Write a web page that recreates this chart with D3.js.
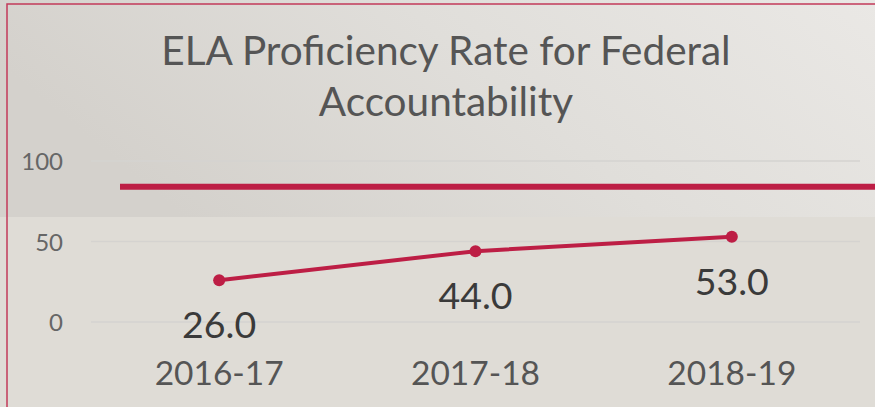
<!DOCTYPE html>
<html><head><meta charset="utf-8">
<script src="https://cdn.jsdelivr.net/npm/d3@7"></script>
<style>html,body{margin:0;padding:0;overflow:hidden;background:#dfdcd6}</style>
</head><body>
<script>
const categories = ["2016-17", "2017-18", "2018-19"];
const values = [26.0, 44.0, 53.0];
const targetValue = 84;
const yTicks = [0, 50, 100];
const titleLines = ["ELA Proficiency Rate for Federal", "Accountability"];

const W = 875, H = 407;
const svg = d3.select("body").append("svg").attr("width", W).attr("height", H);
const defs = svg.append("defs");
const g1 = defs.append("linearGradient").attr("id","topg").attr("x1","0").attr("y1","0.3").attr("x2","1").attr("y2","0");
g1.append("stop").attr("offset","0").attr("stop-color","#d4d1cc");
g1.append("stop").attr("offset","0.5").attr("stop-color","#e0deda");
g1.append("stop").attr("offset","1").attr("stop-color","#eae8e5");
svg.append("rect").attr("width",W).attr("height",H).attr("fill","#dfdcd6");
svg.append("rect").attr("width",W).attr("height",217).attr("fill","url(#topg)");

// border
svg.append("rect").attr("x",7).attr("y",4).attr("width",W+20).attr("height",H+20)
  .attr("fill","none").attr("stroke","#c23a5a").attr("stroke-width",1.5);

const x = d3.scaleBand().domain(categories).range([91, 860]);
const y = d3.scaleLinear().domain([0, 100]).range([322, 161]);
const font = "Lato, 'Open Sans', sans-serif";

// gridlines
svg.append("g").selectAll("line").data(yTicks).join("line")
  .attr("x1",91).attr("x2",860).attr("y1",d=>y(d)).attr("y2",d=>y(d))
  .attr("stroke","#d5d3d0").attr("stroke-width",1.5);

// y axis labels
const yAxis = d3.axisLeft(y).tickValues(yTicks).tickSize(0).tickPadding(0);
const ya = svg.append("g").attr("transform","translate(63,0)").call(yAxis);
ya.select(".domain").remove();
ya.selectAll("text").attr("font-family",font).attr("font-size",24).attr("fill","#666").attr("dy","0.36em");

// title
svg.append("g").selectAll("text").data(titleLines).join("text")
  .attr("x",446).attr("y",(d,i)=>65+i*51).attr("text-anchor","middle")
  .attr("font-family",font).attr("font-size",40.5).attr("fill","#555").text(d=>d);

// target line
svg.append("line").attr("x1",120).attr("x2",W).attr("y1",y(targetValue)).attr("y2",y(targetValue))
  .attr("stroke","#bd1e45").attr("stroke-width",6);

const cx = d => x(d) + x.bandwidth()/2;
const data = categories.map((c,i)=>({c, v: values[i]}));

svg.append("path").datum(data)
  .attr("d", d3.line().x(d=>cx(d.c)).y(d=>y(d.v)))
  .attr("fill","none").attr("stroke","#bd1e45").attr("stroke-width",4);
svg.append("g").selectAll("circle").data(data).join("circle")
  .attr("cx",d=>cx(d.c)).attr("cy",d=>y(d.v)).attr("r",6).attr("fill","#bd1e45");

// value labels
svg.append("g").selectAll("text").data(data).join("text")
  .attr("x",d=>cx(d.c)).attr("y",d=>y(d.v)+58).attr("text-anchor","middle")
  .attr("font-family",font).attr("font-size",37.5).attr("fill","#3a3a3a")
  .text(d=>d3.format(".1f")(d.v));

// category axis
const xAxis = d3.axisBottom(x).tickSize(0).tickPadding(0);
const xa = svg.append("g").attr("transform","translate(0,385)").call(xAxis);
xa.select(".domain").remove();
xa.selectAll("text").attr("font-family",font).attr("font-size",33.5).attr("fill","#555").attr("dy","0");
</script>
</body></html>
